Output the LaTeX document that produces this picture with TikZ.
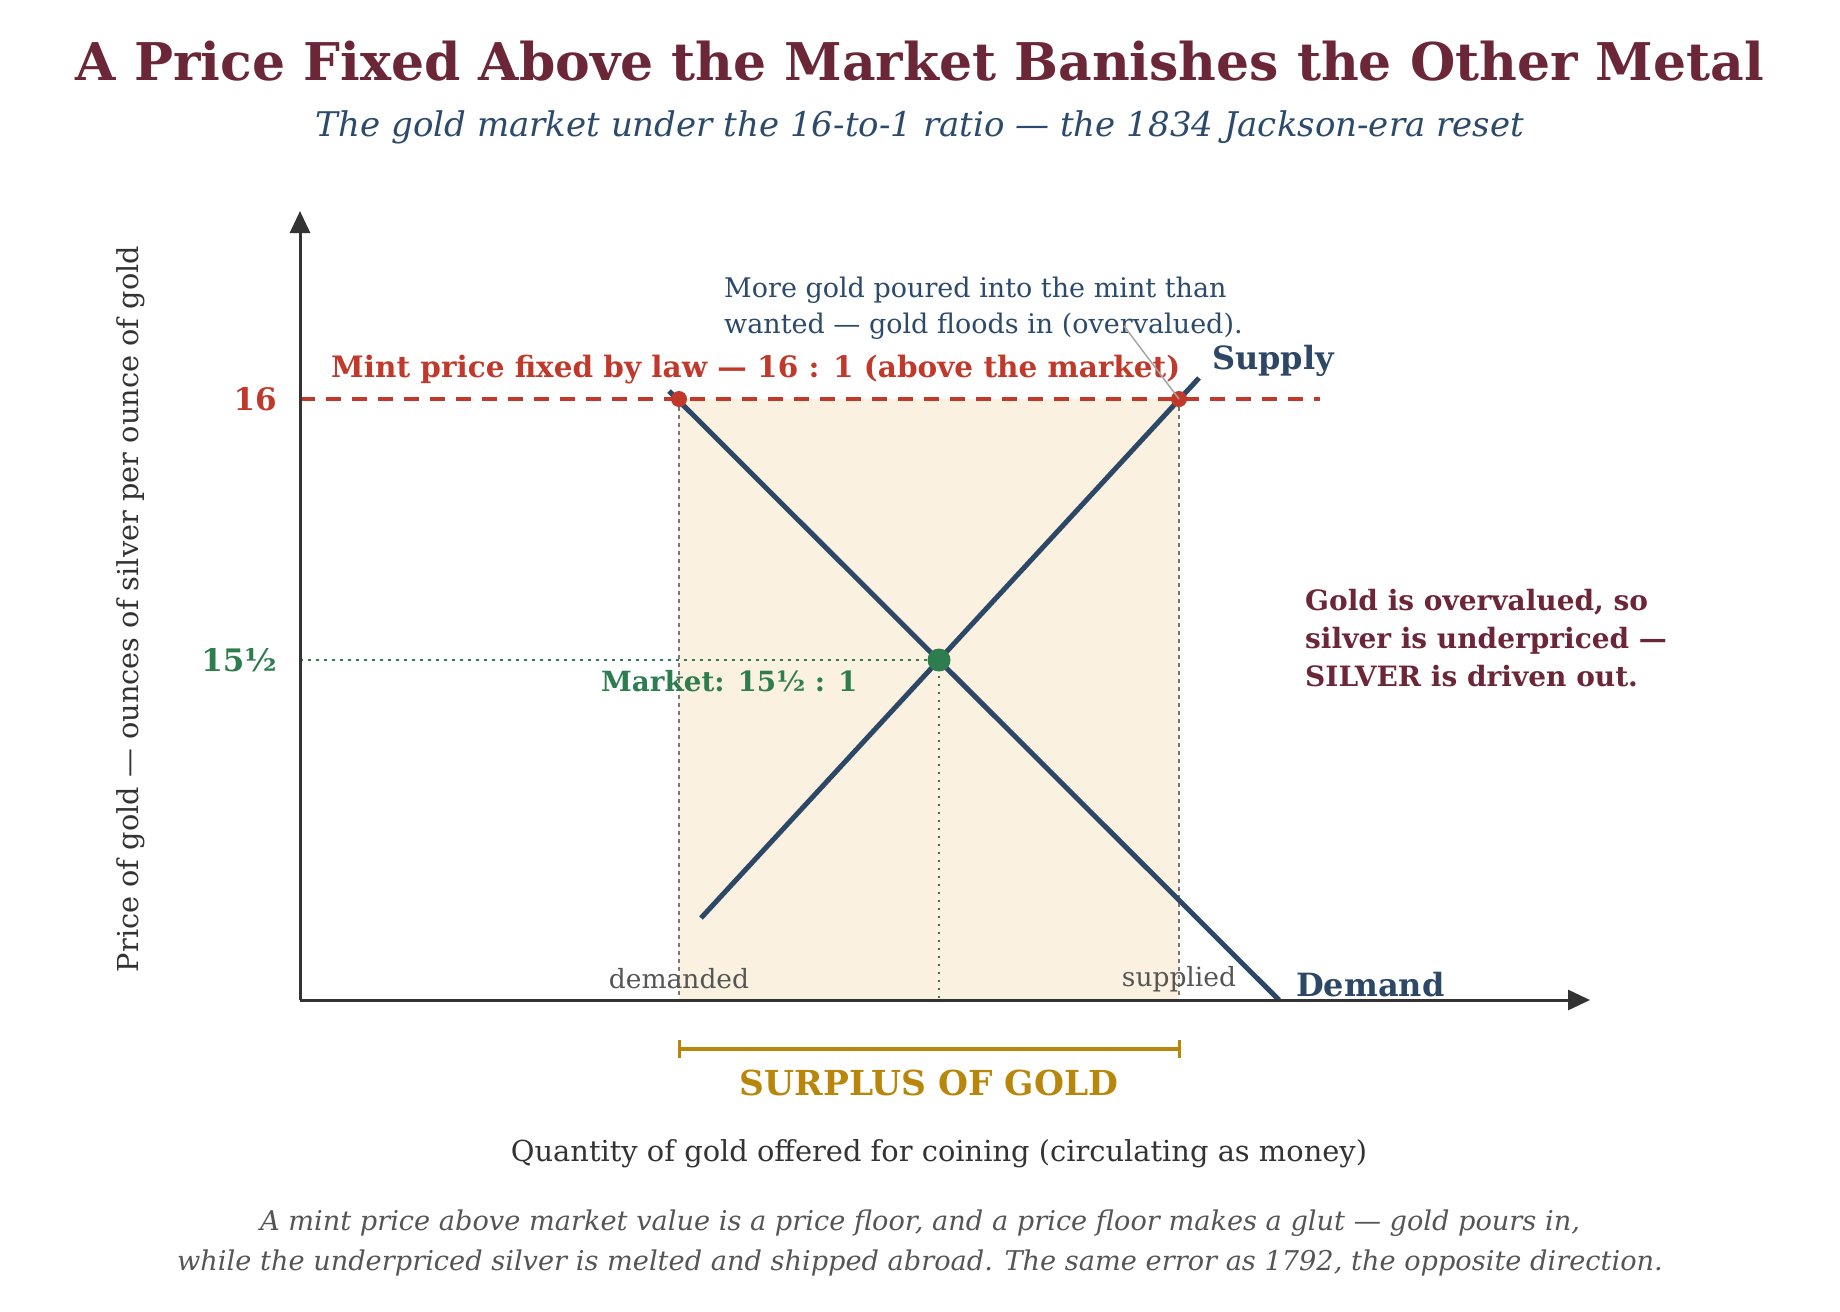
\documentclass[tikz,border=0pt]{standalone}
\usepackage{fontspec}
\setmainfont{DejaVu Serif}
\usetikzlibrary{arrows.meta,positioning}

\definecolor{titlered}{HTML}{6B2737}
\definecolor{subblue}{HTML}{2C4A6B}
\definecolor{curveblue}{HTML}{2C4866}
\definecolor{mintred}{HTML}{C0392B}
\definecolor{mktgreen}{HTML}{2E7D4F}
\definecolor{surplusgold}{HTML}{B8860B}
\definecolor{shadefill}{HTML}{FBF1E0}
\definecolor{axisgrey}{HTML}{333333}
\definecolor{notegrey}{HTML}{555555}

\newcommand{\fs}[2]{\fontsize{#1}{#2}\selectfont}

\begin{document}
\begin{tikzpicture}[x=1pt, y=-1pt,
    curve/.style={line width=5pt, draw=curveblue},
    axisline/.style={line width=3pt, draw=axisgrey, -{Triangle[length=22pt,width=20pt]}},
    guide/.style={line width=1.5pt, draw=notegrey!80, dash pattern=on 4pt off 4pt},
    mintline/.style={line width=4pt, draw=mintred, dash pattern=on 15pt off 11pt},
    mktline/.style={line width=2.5pt, draw=mktgreen, dash pattern=on 2.5pt off 5.5pt},
    lbl/.style={inner sep=0pt, font=\fs{26}{32}}
]
\useasboundingbox (0,0) rectangle (1840,1312);

% Title and subtitle
\node[inner sep=0pt, text=titlered, font=\fs{52}{60}\bfseries] (title) at (920,61)
    {A Price Fixed Above the Market Banishes the Other Metal};
\node[inner sep=0pt, text=subblue, font=\fs{34}{40}\itshape] (subtitle) at (920,127)
    {The gold market under the 16-to-1 ratio — the 1834 Jackson-era reset};

% Key points
\coordinate (O) at (300,1000);
\coordinate (qd) at (679,399);
\coordinate (qs) at (1179,399);
\coordinate (eq) at (939,660);

% Surplus region between the two quantities
\fill[shadefill] (qd) rectangle (1179,1000);

% Guides down to the quantity axis
\draw[guide] (qd) -- (qd |- O);
\draw[guide] (qs) -- (qs |- O);
\draw[mktline] (300,660) -- (eq);
\draw[mktline, dash pattern=on 2pt off 6pt, line width=2pt] (eq) -- (eq |- O);

% Mint price line
\draw[mintline] (300,399) -- (1320,399);

% Demand and supply
\draw[curve] (669,391) -- (1279,1000);
\draw[curve] (701,918) -- (1199,378);

% Axes
\draw[axisline] (O) -- (300,211);
\draw[axisline] (O) -- (1590,1000);

% Points
\fill[mintred] (qd) circle (8);
\fill[mintred] (qs) circle (8);
\fill[mktgreen] (eq) circle (11.5);

% Axis tick labels
\node[lbl, anchor=east, text=mintred, font=\fs{31}{36}\bfseries] (p16) at (277,399) {16};
\node[lbl, anchor=east, text=mktgreen, font=\fs{31}{36}\bfseries] (p155) at (277,660) {15½};

% Line labels
\node[lbl, anchor=west, text=mintred, font=\fs{29.5}{34}\bfseries] (mintlbl) at (331,370)
    {Mint price fixed by law — 16 : 1 (above the market)};
\node[lbl, anchor=west, text=curveblue, font=\fs{32}{36}\bfseries] (supplylbl) at (1212,361) {Supply};
\node[lbl, anchor=west, text=curveblue, font=\fs{32}{36}\bfseries] (demandlbl) at (1296,985) {Demand};
\node[lbl, anchor=west, text=mktgreen, font=\fs{27.8}{32}\bfseries] (mktlbl) at (601,681) {Market: 15½ : 1};

% Quantity labels
\node[lbl, text=notegrey, font=\fs{26.5}{30}] (demlbl) at (679,979) {demanded};
\node[lbl, text=notegrey, font=\fs{26.5}{30}] (suplbl) at (1179,979) {supplied};

% Note on the flood of gold
\node[lbl, anchor=west, align=left, text=subblue, font=\fs{27}{36}] (note) at (724,308)
    {More gold poured into the mint than\\wanted — gold floods in (overvalued).};
\coordinate (lead) at (1124,326);
\draw[line width=1.5pt, draw=gray!70] (lead) -- (qs);

% Gresham note on the right
\node[lbl, anchor=west, align=left, text=titlered, font=\fs{28}{38}\bfseries] (gresham) at (1305,638)
    {Gold is overvalued, so\\silver is underpriced —\\SILVER is driven out.};

% Surplus bracket
\draw[line width=4pt, draw=surplusgold] (679,1049) -- (1179,1049);
\draw[line width=3pt, draw=surplusgold] (679,1040) -- (679,1058);
\draw[line width=3pt, draw=surplusgold] (1179,1040) -- (1179,1058);
\node[lbl, text=surplusgold, font=\fs{34.4}{40}\bfseries] (surplus) at (929,1083) {SURPLUS OF GOLD};

% Axis titles
\node[lbl, text=axisgrey, font=\fs{28.9}{34}] (xlbl) at (939,1154)
    {Quantity of gold offered for coining (circulating as money)};
\node[lbl, text=axisgrey, font=\fs{28.8}{34}, rotate=90] (ylbl) at (131,609)
    {Price of gold — ounces of silver per ounce of gold};

% Caption
\node[lbl, align=center, text=notegrey, font=\fs{27.2}{40}\itshape] (caption) at (920,1243)
    {A mint price above market value is a price floor, and a price floor makes a glut — gold pours in,\\
     while the underpriced silver is melted and shipped abroad. The same error as 1792, the opposite direction.};
\end{tikzpicture}
\end{document}
